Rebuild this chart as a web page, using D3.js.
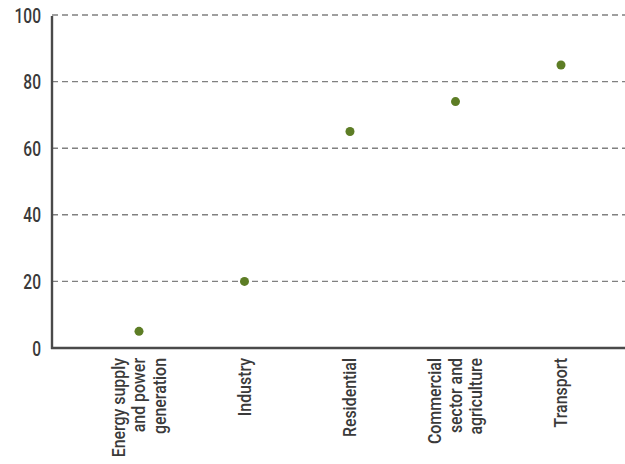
<!DOCTYPE html>
<html><head><meta charset="utf-8">
<script src="https://cdn.jsdelivr.net/npm/d3@7"></script>
<style>
body{margin:0;background:#fff;}
text{font-family:"Roboto","Liberation Sans",sans-serif;}
</style></head>
<body><svg id="c" width="625" height="464"></svg>
<script>
const categories = [
  ["Energy supply","and power","generation"],
  ["Industry"],
  ["Residential"],
  ["Commercial","sector and","agriculture"],
  ["Transport"]
];
const values = [5, 20, 65, 74, 85];
const yTicks = [0, 20, 40, 60, 80, 100];

(function(){
const svg = d3.select("#c");
const mLeft = 52, mRight = 625, mTop = 15, mBottom = 348;
const keys = categories.map(d => d.join(" "));
const x = d3.scalePoint().domain(keys).range([139, 561]);
const y = d3.scaleLinear().domain([0, 100]).range([mBottom, mTop]);

svg.append("g").selectAll("line").data(yTicks.filter(d => d > 0)).join("line")
  .attr("x1", mLeft).attr("x2", mRight)
  .attr("y1", d => y(d)).attr("y2", d => y(d))
  .attr("stroke", "#808080").attr("stroke-width", 1.4).attr("stroke-dasharray", "6,4");

svg.append("g").selectAll("text").data(yTicks).join("text")
  .attr("transform", d => `translate(41,${y(d)}) scale(0.74,1)`)
  .attr("dy", "0.36em")
  .attr("text-anchor", "end").attr("font-size", 21).attr("font-weight", 500).attr("fill", "#3a3a3a")
  .text(d => d);

svg.append("line").attr("x1", mLeft).attr("x2", mLeft).attr("y1", mTop + 1).attr("y2", mBottom + 1)
  .attr("stroke", "#4a4a4a").attr("stroke-width", 2.4);
svg.append("line").attr("x1", mLeft - 1).attr("x2", mRight).attr("y1", mBottom).attr("y2", mBottom)
  .attr("stroke", "#4a4a4a").attr("stroke-width", 2.6);

svg.append("g").selectAll("circle").data(values).join("circle")
  .attr("cx", (d, i) => x(keys[i])).attr("cy", d => y(d)).attr("r", 4.5)
  .attr("fill", "#5d7d25");

const lh = 20.5;
const g = svg.append("g").selectAll("text").data(categories).join("text")
  .attr("transform", (d, i) => `translate(${x(keys[i])},${mBottom + 10}) rotate(-90) scale(0.86,1)`)
  .attr("text-anchor", "end").attr("font-size", 18.5).attr("font-weight", 500).attr("fill", "#3a3a3a");
g.each(function(lines) {
  const t = d3.select(this);
  const n = lines.length;
  lines.forEach((l, j) => {
    t.append("tspan").attr("x", 0).attr("y", (j - (n - 1) / 2) * lh).attr("dy", "0.35em").text(l);
  });
});
})();
</script></body></html>
